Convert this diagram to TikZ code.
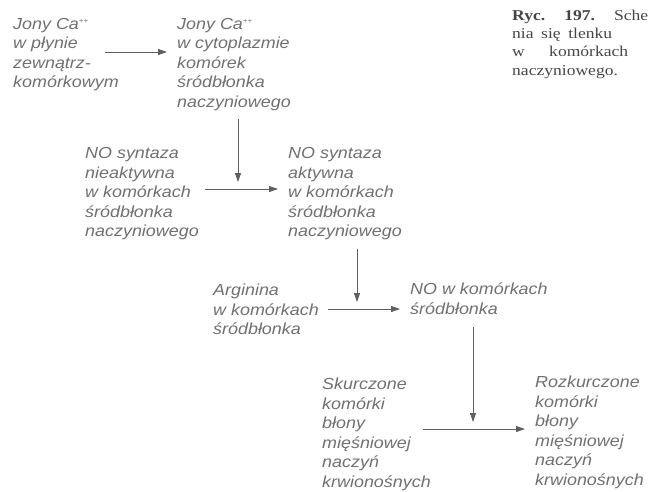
\documentclass[tikz,border=0pt]{standalone}
\usepackage{fontspec}
\setmainfont{Liberation Sans}
\newfontfamily\lblfont{Liberation Sans}[FakeStretch=1.12]
\newfontfamily\capfont{Liberation Serif}[FakeStretch=1.17]
\usetikzlibrary{arrows.meta,positioning}
\definecolor{lblgray}{RGB}{112,112,112}
\definecolor{arrgray}{RGB}{95,95,95}
\definecolor{capgray}{RGB}{70,70,70}
\newcommand{\pp}{\raisebox{5.5pt}{\fontsize{7}{7}\selectfont ++}}

\begin{document}
\begin{tikzpicture}
[x=1pt, y=-1pt, >={Triangle[length=9pt,width=6pt]},
lbl/.style={anchor=north west, align=left, inner sep=0pt, text=lblgray,
  font=\lblfont\itshape\fontsize{16}{19.5}\selectfont,
  execute at begin node=\strut, execute at end node=\strut},
captext/.style={anchor=north west, align=left, inner sep=0pt, text=capgray,
  font=\capfont\fontsize{15}{18.4}\selectfont, execute at begin node=\strut},
flow/.style={->, draw=arrgray, line width=0.8pt, shorten >=10pt},
cat/.style={->, draw=arrgray, line width=0.8pt, shorten <=6pt, shorten >=7pt}]

\useasboundingbox (0,0) rectangle (648,491);

\node[lbl] (caout) at (13,18) {Jony Ca\pp\\w płynie\\zewnątrz-\\komórkowym};
\node[lbl] (cain) at (177,18) {Jony Ca\pp\\w cytoplazmie\\komórek\\śródbłonka\\naczyniowego};
\node[lbl] (nosoff) at (85,147.5) {NO syntaza\\nieaktywna\\w komórkach\\śródbłonka\\naczyniowego};
\node[lbl] (noson) at (288,147.5) {NO syntaza\\aktywna\\w komórkach\\śródbłonka\\naczyniowego};
\node[lbl] (arg) at (213,284) {Arginina\\w komórkach\\śródbłonka};
\node[lbl] (no) at (410,283) {NO w komórkach\\śródbłonka};
\node[lbl] (skurcz) at (322,378) {Skurczone\\komórki\\błony\\mięśniowej\\naczyń\\krwionośnych};
\node[lbl] (rozkurcz) at (535,376) {Rozkurczone\\komórki\\błony\\mięśniowej\\naczyń\\krwionośnych};

\node[captext] (ryc) at (512,9.5) {\makebox[136pt][s]{\textbf{Ryc. 197.} Sche}\\
  \makebox[100pt][s]{nia się tlenku}\\
  \makebox[116pt][s]{w komórkach}\\
  naczyniowego.};

\coordinate (a1) at (105,52);
\coordinate (a2) at (205,189);
\coordinate (a3) at (328,309);
\coordinate (a4) at (423,429);
\coordinate (m1) at (238,189);
\coordinate (m2) at (357,309);
\coordinate (m3) at (473,429);

\draw[flow] (a1) -- (cain.west |- a1);
\draw[flow] (a2) -- (noson.west |- a2);
\draw[flow] (a3) -- (no.west |- a3);
\draw[flow] (a4) -- (rozkurcz.west |- a4);

\draw[cat] (cain.south -| m1) -- (m1);
\draw[cat] (noson.south -| m2) -- (m2);
\draw[cat] (no.south -| m3) -- (m3);
\end{tikzpicture}
\end{document}
